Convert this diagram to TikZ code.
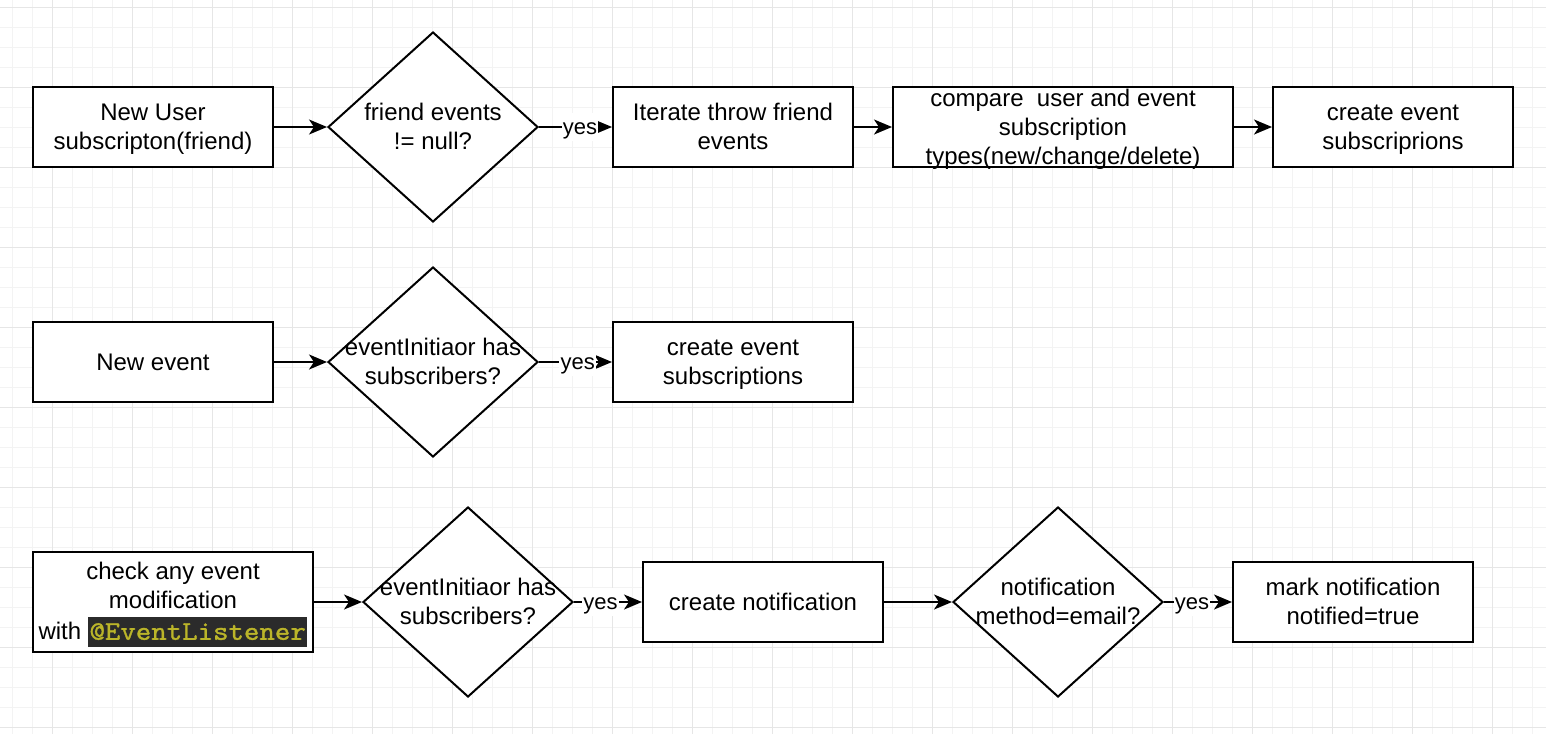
\documentclass[tikz,border=0pt]{standalone}
\usepackage{fontspec}
\setmainfont{Liberation Sans}
\newfontfamily\codefont[FakeStretch=1.09,FakeBold=1.2]{lmmono10-regular.otf}
\usetikzlibrary{shapes.geometric,arrows.meta}
\definecolor{gridminor}{HTML}{F3F3F3}
\definecolor{gridmajor}{HTML}{E6E6E6}
\definecolor{codebg}{HTML}{2B2B2B}
\definecolor{codefg}{HTML}{BBB529}
\newcommand\ds{\rule[-3.04pt]{0pt}{14.4pt}}
\newcommand\ls{\rule[-2.79pt]{0pt}{13.2pt}}
\begin{document}
\begin{tikzpicture}[x=0.5pt,y=-0.5pt,
  box/.style={draw, line width=1pt, fill=white, minimum width=120pt, minimum height=40pt,
    inner sep=0pt, align=center, font=\fontsize{12}{14.4}\selectfont},
  dia/.style={draw, diamond, line width=1pt, fill=white, minimum width=105pt,
    minimum height=95pt, inner sep=0pt},
  dtext/.style={inner sep=0pt, align=center, font=\fontsize{12}{14.4}\selectfont},
  conn/.style={line width=1pt, -{Stealth[length=9pt,width=7.5pt,inset=2.5pt]}},
  lbl/.style={fill=white, inner sep=0.6pt, font=\fontsize{11}{13.2}\selectfont}]
% background and grid
\fill[white] (0,0) rectangle (1546,734);
\useasboundingbox (0,0) rectangle (1546,734);
\foreach \x in {12.5,32.5,...,1540} \draw[gridminor, line width=0.5pt] (\x,0) -- (\x,734);
\foreach \y in {7,27,...,734} \draw[gridminor, line width=0.5pt] (0,\y) -- (1546,\y);
\foreach \x in {52.5,132.5,...,1540} \draw[gridmajor, line width=0.5pt] (\x,0) -- (\x,734);
\foreach \y in {7,87,...,734} \draw[gridmajor, line width=0.5pt] (0,\y) -- (1546,\y);
% row 1
\node[box] (A) at (153,127) {\ds New User\\\ds subscripton(friend)};
\node[dia] (B) at (433,127) {};
\node[dtext] (Bt) at (B.center) {\ds friend events\\\ds != null?};
\node[box] (C) at (733,127) {\ds Iterate throw friend\\\ds events};
\node[box, minimum width=170pt] (D) at (1063,127) {};
\node[dtext] (Dt) at (D.center) {\ds compare~~user and event\\\ds subscription\\\ds types(new/change/delete)};
\node[box] (E) at (1393,127) {\ds create event\\\ds subscriprions};
\draw[conn] (A) -- (B);
\draw[conn] (B) -- node[lbl, pos=0.56] {\ls yes} (C);
\draw[conn] (C) -- (D);
\draw[conn] (D) -- (E);
% row 2
\node[box] (F) at (153,362) {\ds New event};
\node[dia] (G) at (433,362) {};
\node[dtext] (Gt) at (G.center) {\ds eventInitiaor has\\\ds subscribers?};
\node[box] (H) at (733,362) {\ds create event\\\ds subscriptions};
\draw[conn] (F) -- (G);
\draw[conn] (G) -- node[lbl, pos=0.53] {\ls yes} (H);
% row 3
\node[box, minimum width=140pt, minimum height=50pt] (I) at (173,602)
  {\ds check any event\\\ds modification\\\ds with {\fboxsep=0pt\colorbox{codebg}{\rule[-3.5pt]{0pt}{15pt}\hspace{0.8pt}\textcolor{codefg}{\codefont\fontsize{13.5}{14.4}\selectfont @EventListener}\hspace{0.8pt}}}};
\node[dia] (J) at (468,602) {};
\node[dtext] (Jt) at (J.center) {\ds eventInitiaor has\\\ds subscribers?};
\node[box] (K) at (763,602) {\ds create notification};
\node[dia] (L) at (1058,602) {};
\node[dtext] (Lt) at (L.center) {\ds notification\\\ds method=email?};
\node[box] (M) at (1353,602) {\ds mark notification\\\ds notified=true};
\draw[conn] (I) -- (J);
\draw[conn] (J) -- node[lbl, pos=0.39] {\ls yes} (K);
\draw[conn] (K) -- (L);
\draw[conn] (L) -- node[lbl, pos=0.41] {\ls yes} (M);
\end{tikzpicture}
\end{document}
